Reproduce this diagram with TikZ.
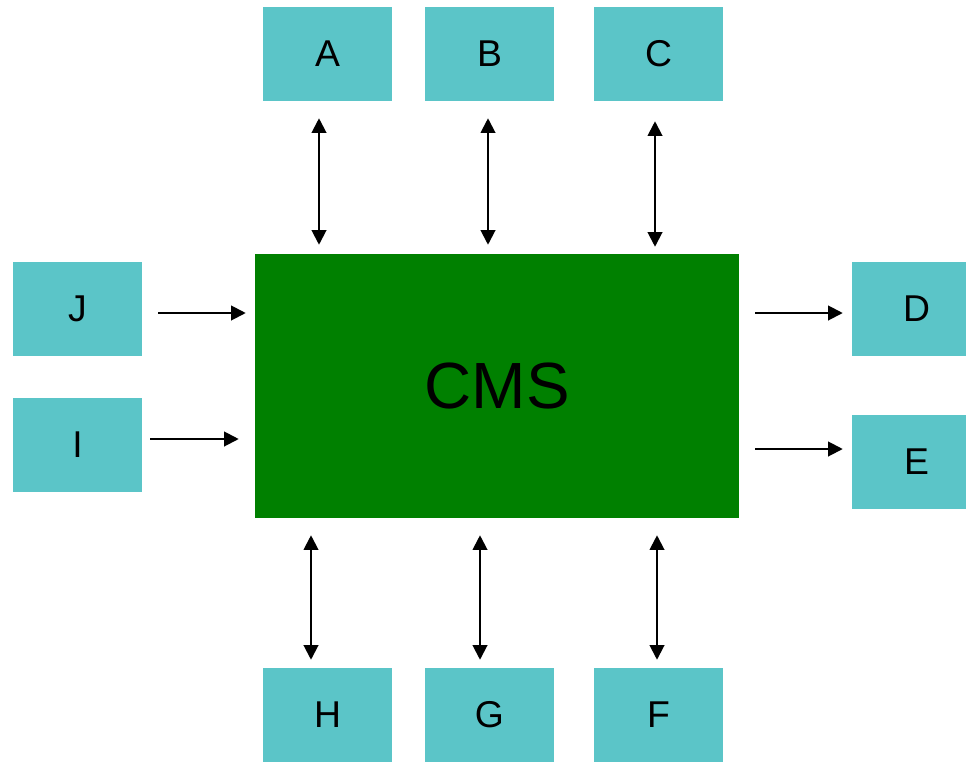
\documentclass[tikz,border=0pt]{standalone}
\usepackage{fontspec}
\setmainfont{Liberation Sans}
\usetikzlibrary{calc,arrows.meta}
\definecolor{boxcyan}{HTML}{5BC5C8}
\definecolor{cmsgreen}{HTML}{008000}
\tikzset{
  unit/.style={fill=boxcyan, minimum width=96.75pt, minimum height=70.5pt, inner sep=0pt, font=\fontsize{28}{30}\selectfont},
  core/.style={fill=cmsgreen, minimum width=363pt, minimum height=198pt, inner sep=0pt, font=\fontsize{49}{52}\selectfont},
  flow/.style={line width=1.5pt, -{Triangle[length=11pt,width=11pt]}},
  both/.style={line width=1.5pt, {Triangle[length=11pt,width=11pt]}-{Triangle[length=11pt,width=11pt]}}
}
\begin{document}
\begin{tikzpicture}[x=0.75pt,y=-0.75pt]
	\useasboundingbox (0,0) rectangle (966,761);
	\node[core] (cms) at (497,386) {CMS};
	\node[unit] (A) at (327.5,54) {A};
	\node[unit] (B) at (489.5,54) {B};
	\node[unit] (C) at (658.5,54) {C};
	\node[unit] (J) at (77.5,309) {J};
	\node[unit] (I) at (77.5,445) {I};
	\node[unit] (D) at (916.5,309) {D};
	\node[unit] (E) at (916.5,462) {E};
	\node[unit] (H) at (327.5,715) {H};
	\node[unit] (G) at (489.5,715) {G};
	\node[unit] (F) at (658.5,715) {F};
	% top
	\draw[both] ($(A.south)+(-8.5,17)$) -- ($(A.south |- cms.north)+(-8.5,-9)$);
	\draw[both] ($(B.south)+(-1.5,17)$) -- ($(B.south |- cms.north)+(-1.5,-9)$);
	\draw[both] ($(C.south)+(-3.5,20)$) -- ($(C.south |- cms.north)+(-3.5,-7)$);
	% bottom
	\draw[both] ($(cms.south -| H.north)+(-16.5,17)$) -- ($(H.north)+(-16.5,-8)$);
	\draw[both] ($(cms.south -| G.north)+(-9.5,17)$) -- ($(G.north)+(-9.5,-8)$);
	\draw[both] ($(cms.south -| F.north)+(-1.5,17)$) -- ($(F.north)+(-1.5,-8)$);
	% sides
	\draw[flow] ($(J.east)+(16,4)$) -- ($(J.east -| cms.west)+(-9,4)$);
	\draw[flow] ($(I.east)+(8,-6)$) -- ($(I.east -| cms.west)+(-16,-6)$);
	\draw[flow] ($(cms.east |- D.west)+(16,4)$) -- ($(D.west)+(-9,4)$);
	\draw[flow] ($(cms.east |- E.west)+(16,-13)$) -- ($(E.west)+(-9,-13)$);
\end{tikzpicture}
\end{document}
